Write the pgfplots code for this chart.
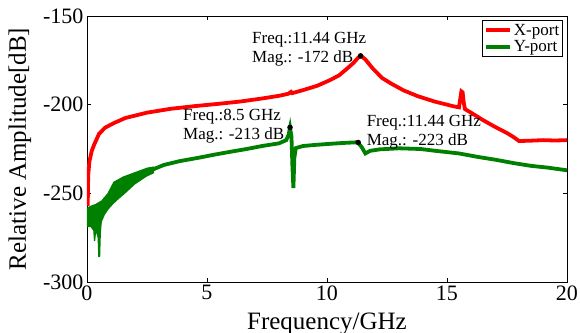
\documentclass[border=0pt]{standalone}
\usepackage{pgfplots}
\pgfplotsset{compat=1.18}
\usepackage{fontspec}
\setmainfont{Liberation Serif}
\definecolor{mred}{RGB}{255,0,0}
\definecolor{mgreen}{RGB}{0,128,0}
\begin{document}
\begin{tikzpicture}
\begin{axis}[
 name=ax,
 scale only axis, width=480pt, height=266pt,
 xmin=0,xmax=20,ymin=-300,ymax=-150,
 xtick={0,5,10,15,20}, ytick={-300,-250,-200,-150},
 tick align=inside, major tick length=4pt,
 axis line style={line width=0.8pt},
 tick style={line width=0.6pt,black},
 /pgf/number format/assume math mode=true,
 ticklabel style={font=\fontsize{22}{22}\selectfont},
 xlabel={Frequency/GHz}, ylabel={Relative Amplitude[dB]},
 label style={font=\fontsize{25}{25}\selectfont},
 xlabel style={at={(axis description cs:0.5,-0.158)},anchor=center},
 ylabel style={at={(axis description cs:-0.1396,0.5)},anchor=center},
 legend style={at={(0.992,0.985)},anchor=north east, font=\fontsize{17}{17}\selectfont, draw=black, line width=0.8pt, inner sep=1.5pt},
 legend cell align=left,
 legend image code/.code={\draw[#1] (0,0) -- (24pt,0);},
]
\addplot[mred, line width=3.8pt] coordinates {
(0.03,-257)(0.05,-240)(0.1,-232)(0.2,-226)(0.3,-222.5)(0.5,-216.5)(0.75,-213)(1.1,-210.5)(1.6,-207.5)(2.5,-204.5)(3.5,-202.3)(4.5,-200.8)(5.5,-199.5)(6.4,-198.2)(7.3,-196.5)(8.0,-195)(8.4,-193.8)(8.5,-192.8)(8.55,-193.5)(9.0,-191.8)(9.6,-189.3)(10.1,-186.3)(10.5,-183.5)(10.85,-179.5)(11.1,-176.5)(11.3,-173.5)(11.4,-172.3)(11.6,-174.5)(11.9,-179.5)(12.3,-185)(12.7,-188.3)(13.2,-192)(13.8,-195.3)(14.5,-198.3)(15.3,-201)(15.5,-201.5)(15.55,-197)(15.6,-192.5)(15.65,-193)(15.7,-199)(15.75,-202.5)(16.0,-204.5)(16.5,-208.7)(17.0,-212.5)(17.5,-216)(17.8,-218.5)(18.0,-220.5)(18.5,-220.3)(19,-220)(19.5,-220.2)(20,-220)
};
\addlegendentry{X-port}
\addplot[mgreen, line width=3.8pt] coordinates {
(2.7,-236.8)(3.2,-234)(3.875,-231.8)(4.7,-229.8)(5.3,-228.2)(6.0,-226.5)(6.65,-225)(7.3,-223.3)(8.0,-221.8)(8.3,-220)(8.4,-217)(8.46,-213)(8.52,-218)(8.56,-235)(8.6,-247)(8.64,-230)(8.7,-224.5)(9.0,-223.3)(9.5,-222.7)(10.2,-222)(10.8,-221.5)(11.28,-221.2)(11.45,-224)(11.6,-227.5)(11.8,-226)(12.2,-225.2)(13.0,-224.6)(13.9,-225)(14.5,-226)(15.5,-227.5)(16.3,-229.5)(17.0,-231)(17.8,-233)(18.5,-234.5)(19.2,-235.5)(20,-237)
};
\addlegendentry{Y-port}
\addplot[fill=mgreen, draw=none, forget plot] coordinates {
(0,-258)(0.15,-257)(0.35,-256)(0.6,-254)(0.85,-250)(1.1,-243.5)(1.5,-240.5)(2.0,-238)(2.5,-235.5)(2.8,-234.8)
(2.8,-238.6)(2.5,-240.5)(2.0,-245)(1.6,-250)(1.3,-253.5)(1.1,-256)(0.9,-259)(0.75,-262)(0.62,-266)(0.58,-272)(0.55,-286)(0.47,-286)(0.44,-275)(0.38,-272)(0.34,-277)(0.29,-277)(0.26,-271)(0.15,-269)(0,-269)
} -- cycle;
\addplot[black, only marks, mark=*, mark size=2.5pt, forget plot] coordinates {(11.4,-172.5)(8.46,-212.8)(11.3,-221.3)};
\node[anchor=west, font=\fontsize{17}{17}\selectfont, inner sep=0] at (axis cs:6.875,-163.5) {Freq.:11.44 GHz};
\node[anchor=west, font=\fontsize{17}{17}\selectfont, inner sep=0] at (axis cs:6.875,-173.7) {Mag.: -172 dB};
\node[anchor=west, font=\fontsize{17}{17}\selectfont, inner sep=0] at (axis cs:4.0,-207) {Freq.:8.5 GHz};
\node[anchor=west, font=\fontsize{17}{17}\selectfont, inner sep=0] at (axis cs:4.0,-217.1) {Mag.: -213 dB};
\node[anchor=west, font=\fontsize{17}{17}\selectfont, inner sep=0] at (axis cs:11.65,-210.3) {Freq.:11.44 GHz};
\node[anchor=west, font=\fontsize{17}{17}\selectfont, inner sep=0] at (axis cs:11.65,-221) {Mag.: -223 dB};
\coordinate (bl) at (axis description cs:-0.18125,-0.188);
\coordinate (tr) at (axis description cs:1.0271,1.0602);
\end{axis}
\pgfresetboundingbox
\path[use as bounding box] (bl) rectangle (tr);
\end{tikzpicture}
\end{document}
